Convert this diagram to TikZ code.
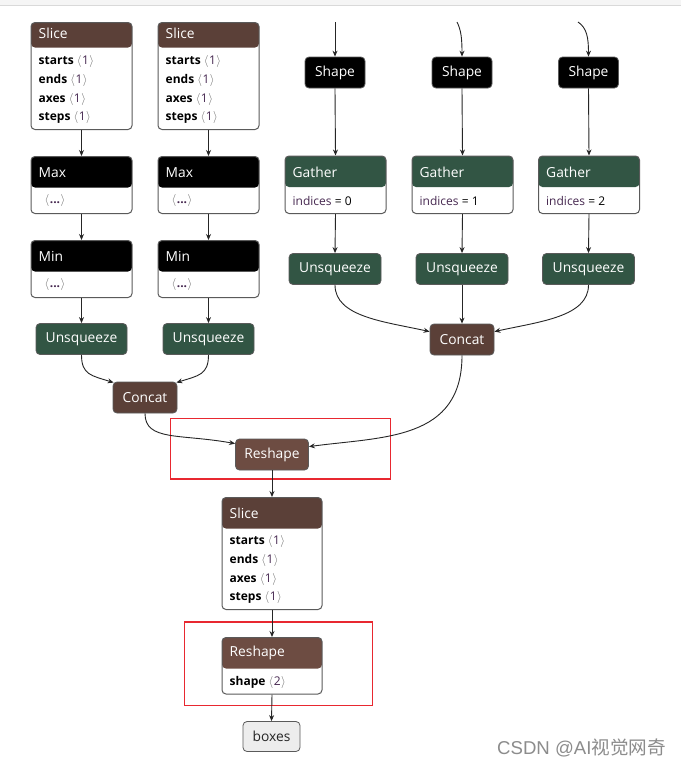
\documentclass[tikz,border=0pt]{standalone}
\usepackage{fontspec}
\setmainfont{Open Sans}
\newfontfamily\cjkfont{Noto Sans CJK SC}
\newfontfamily\wmfont{Liberation Sans}
\usetikzlibrary{arrows.meta}
\definecolor{hbrown}{RGB}{91,64,56}
\definecolor{rbrown}{RGB}{109,76,66}
\definecolor{ggreen}{RGB}{50,85,68}
\definecolor{bordergray}{RGB}{90,90,90}
\definecolor{redbox}{RGB}{232,40,48}
\definecolor{brk}{RGB}{110,110,110}
\definecolor{numc}{RGB}{70,40,80}
\newcommand\av[1]{{\color{brk}$\langle$\kern0.5pt}{\color{numc}#1}{\color{brk}\kern0.5pt$\rangle$}}
\tikzset{
  x=1pt, y=-1pt,
  card/.style={draw=bordergray, line width=1pt, rounded corners=4pt, fill=white, inner sep=0pt},
  op/.style={draw=bordergray, line width=0.8pt, rounded corners=4pt, inner sep=0pt, minimum height=31pt, text=white, font=\fontsize{13.8}{16}\selectfont},
  hdr/.style={text=white, font=\fontsize{13.8}{16}\selectfont, inner sep=0pt, anchor=west},
  attr/.style={text=black, font=\fontsize{12}{14}\selectfont, inner sep=0pt, anchor=west},
  edge/.style={draw=black!85, line width=0.9pt, -{Stealth[length=6pt,width=5pt]}},
  rbox/.style={draw=redbox, line width=1.2pt}
}
\newcommand\mkcard[7]{% name, cx, top, w, h, headh, color
  \node[card, minimum width=#4pt, minimum height=#5pt, anchor=north,
    path picture={\fill[#7] (path picture bounding box.north west) rectangle ([yshift=-#6pt]path picture bounding box.north east);}] (#1) at (#2,#3) {};}
\begin{document}
\begin{tikzpicture}
\useasboundingbox (0,0) rectangle (681,769);
\fill[white] (0,0) rectangle (681,769);
\fill[black!4] (0,0) rectangle (681,5);
\draw[black!15, line width=0.8pt] (0,5.5) -- (681,5.5);

% ---------- left column 1 ----------
\mkcard{sl1}{81.5}{22}{101}{107}{25}{hbrown}
\node[hdr] at ([xshift=8pt,yshift=-11.5pt]sl1.north west) {Slice};
\node[attr] at ([xshift=8pt,yshift=-39.5pt]sl1.north west) {\textbf{starts} \av{1}};
\node[attr] at ([xshift=8pt,yshift=-58pt]sl1.north west) {\textbf{ends} \av{1}};
\node[attr] at ([xshift=8pt,yshift=-77pt]sl1.north west) {\textbf{axes} \av{1}};
\node[attr] at ([xshift=8pt,yshift=-95pt]sl1.north west) {\textbf{steps} \av{1}};

\mkcard{mx1}{81.5}{156}{101}{57}{31}{black}
\node[hdr] at ([xshift=8pt,yshift=-16.5pt]mx1.north west) {Max};
\node[attr] at ([xshift=14pt,yshift=-44.5pt]mx1.north west) {\av{\textbf{...}}};

\mkcard{mn1}{81.5}{240}{101}{57}{31}{black}
\node[hdr] at ([xshift=8pt,yshift=-16.5pt]mn1.north west) {Min};
\node[attr] at ([xshift=14pt,yshift=-44.5pt]mn1.north west) {\av{\textbf{...}}};

\node[op, fill=ggreen, minimum width=91pt] (ul1) at (81.5,339) {Unsqueeze};

% ---------- left column 2 ----------
\mkcard{sl2}{208.5}{22}{101}{107}{25}{hbrown}
\node[hdr] at ([xshift=8pt,yshift=-11.5pt]sl2.north west) {Slice};
\node[attr] at ([xshift=8pt,yshift=-39.5pt]sl2.north west) {\textbf{starts} \av{1}};
\node[attr] at ([xshift=8pt,yshift=-58pt]sl2.north west) {\textbf{ends} \av{1}};
\node[attr] at ([xshift=8pt,yshift=-77pt]sl2.north west) {\textbf{axes} \av{1}};
\node[attr] at ([xshift=8pt,yshift=-95pt]sl2.north west) {\textbf{steps} \av{1}};

\mkcard{mx2}{208.5}{156}{101}{57}{31}{black}
\node[hdr] at ([xshift=8pt,yshift=-16.5pt]mx2.north west) {Max};
\node[attr] at ([xshift=14pt,yshift=-44.5pt]mx2.north west) {\av{\textbf{...}}};

\mkcard{mn2}{208.5}{240}{101}{57}{31}{black}
\node[hdr] at ([xshift=8pt,yshift=-16.5pt]mn2.north west) {Min};
\node[attr] at ([xshift=14pt,yshift=-44.5pt]mn2.north west) {\av{\textbf{...}}};

\node[op, fill=ggreen, minimum width=91pt] (ul2) at (208.5,339) {Unsqueeze};

\node[op, fill=hbrown, minimum width=64pt] (cl) at (145,397.5) {Concat};

% ---------- right side ----------
\coordinate (in1) at (335,22);
\coordinate (in2) at (457,22);
\coordinate (in3) at (578,22);
\node[op, fill=black, minimum width=60pt] (sh1) at (335,72.5) {Shape};
\node[op, fill=black, minimum width=60pt] (sh2) at (462,72.5) {Shape};
\node[op, fill=black, minimum width=60pt] (sh3) at (588.5,72.5) {Shape};

\mkcard{ga1}{335.5}{155.5}{101}{57.5}{31}{ggreen}
\node[hdr] at ([xshift=8pt,yshift=-16.5pt]ga1.north west) {Gather};
\node[attr] at ([xshift=8pt,yshift=-45.5pt]ga1.north west) {{\color{numc}indices} = 0};
\mkcard{ga2}{462.5}{155.5}{101}{57.5}{31}{ggreen}
\node[hdr] at ([xshift=8pt,yshift=-16.5pt]ga2.north west) {Gather};
\node[attr] at ([xshift=8pt,yshift=-45.5pt]ga2.north west) {{\color{numc}indices} = 1};
\mkcard{ga3}{589}{155.5}{101}{57.5}{31}{ggreen}
\node[hdr] at ([xshift=8pt,yshift=-16.5pt]ga3.north west) {Gather};
\node[attr] at ([xshift=8pt,yshift=-45.5pt]ga3.north west) {{\color{numc}indices} = 2};

\node[op, fill=ggreen, minimum width=92pt] (ur1) at (335,269) {Unsqueeze};
\node[op, fill=ggreen, minimum width=92pt] (ur2) at (462,269) {Unsqueeze};
\node[op, fill=ggreen, minimum width=92pt] (ur3) at (588.5,269) {Unsqueeze};

\node[op, fill=hbrown, minimum width=64pt] (cr) at (462,339.5) {Concat};

% ---------- bottom chain ----------
\node[op, fill=rbrown, minimum width=73pt] (rs1) at (272,454.5) {Reshape};

\mkcard{sl3}{272}{497}{100}{112}{31}{hbrown}
\node[hdr] at ([xshift=8pt,yshift=-16pt]sl3.north west) {Slice};
\node[attr] at ([xshift=8pt,yshift=-44.5pt]sl3.north west) {\textbf{starts} \av{1}};
\node[attr] at ([xshift=8pt,yshift=-63.5pt]sl3.north west) {\textbf{ends} \av{1}};
\node[attr] at ([xshift=8pt,yshift=-82.5pt]sl3.north west) {\textbf{axes} \av{1}};
\node[attr] at ([xshift=8pt,yshift=-100.5pt]sl3.north west) {\textbf{steps} \av{1}};

\mkcard{rs2}{272}{637}{100}{56.5}{31}{rbrown}
\node[hdr] at ([xshift=8pt,yshift=-16pt]rs2.north west) {Reshape};
\node[attr] at ([xshift=8pt,yshift=-45.5pt]rs2.north west) {\textbf{shape} \av{2}};

\node[op, fill=black!7, text=black!85, minimum width=57pt, minimum height=30pt] (bx) at (271.5,736.5) {boxes};

% red boxes
\draw[rbox] (170.5,418.5) rectangle (390.5,479);
\draw[rbox] (184.5,622) rectangle (372.5,705.5);

% ---------- edges ----------
\draw[edge] (sl1.south) -- (mx1.north);
\draw[edge] (mx1.south) -- (mn1.north);
\draw[edge] (mn1.south) -- (ul1.north);
\draw[edge] (sl2.south) -- (mx2.north);
\draw[edge] (mx2.south) -- (mn2.north);
\draw[edge] (mn2.south) -- (ul2.north);
\draw[edge] (ul1.south) .. controls +(0,20) and +(-22,-7) .. ([xshift=1pt,yshift=-1pt]cl.north west);
\draw[edge] (ul2.south) .. controls +(0,20) and +(22,-7) .. ([xshift=-1pt,yshift=-1pt]cl.north east);

\draw[edge] (in1) -- (sh1.north);
\draw[edge] (in2) .. controls (461,30) and (462,38) .. (sh2.north);
\draw[edge] (in3) .. controls (587,28) and (588.5,38) .. (sh3.north);
\draw[edge] (sh1.south) -- (ga1.north);
\draw[edge] (sh2.south) -- (ga2.north);
\draw[edge] (sh3.south) -- (ga3.north);
\draw[edge] (ga1.south) -- (ur1.north);
\draw[edge] (ga2.south) -- (ur2.north);
\draw[edge] (ga3.south) -- (ur3.north);
\draw[edge] (ur1.south) .. controls +(0,32) and +(-45,-10) .. ([yshift=-8pt]cr.north west);
\draw[edge] (ur2.south) -- (cr.north);
\draw[edge] (ur3.south) .. controls +(0,32) and +(45,-10) .. ([yshift=-8pt]cr.north east);

\draw[edge] (cl.south) .. controls +(0,28) and +(-55,-10) .. ([yshift=-5pt]rs1.north west);
\draw[edge] (cr.south) .. controls +(0,85) and +(75,-10) .. ([yshift=-8pt]rs1.north east);
\draw[edge] (rs1.south) -- (sl3.north);
\draw[edge] (sl3.south) -- (rs2.north);
\draw[edge] (rs2.south) -- (bx.north);

% watermark
\node[anchor=west, inner sep=0pt, text=black!45, font=\fontsize{18.6}{20}\selectfont] (wm) at (497,748) {{\wmfont CSDN @AI}{\cjkfont 视觉网奇}};
\end{tikzpicture}
\end{document}
